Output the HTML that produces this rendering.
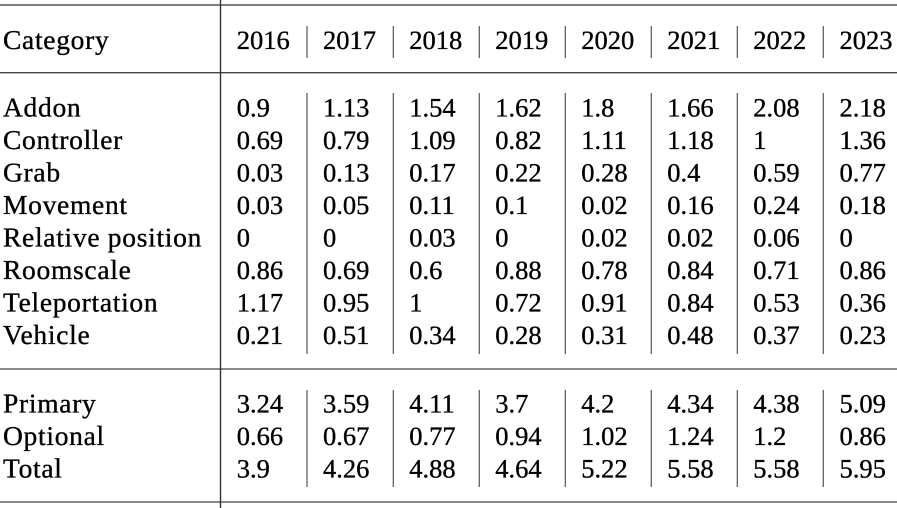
<!DOCTYPE html>
<html>
<head>
<meta charset="utf-8">
<style>
  html, body { margin: 0; padding: 0; background: #fff; }
  body { width: 897px; height: 508px; overflow: hidden; }
  svg { display: block; }
  text { font-family: "Liberation Serif", serif; font-size: 26.5px; fill: #000; stroke: #000; stroke-width: 0.35px; }
  .lbl { font-size: 27.5px; letter-spacing: 0.7px; }
</style>
</head>
<body>
<svg width="897" height="508" viewBox="0 0 897 508" xmlns="http://www.w3.org/2000/svg">
  <!-- horizontal rules -->
  <line x1="0" y1="5" x2="897" y2="5" stroke="#333" stroke-width="1.3"/>
  <line x1="0" y1="72.7" x2="897" y2="72.7" stroke="#444" stroke-width="1.3"/>
  <line x1="0" y1="369" x2="897" y2="369" stroke="#444" stroke-width="1.3"/>
  <line x1="0" y1="502" x2="897" y2="502" stroke="#444" stroke-width="1.3"/>
  <!-- main vertical line -->
  <line x1="220.5" y1="0" x2="220.5" y2="508" stroke="#333" stroke-width="1.4"/>

  <!-- column separators -->
  <g stroke="#555" stroke-width="1.2">
    <line x1="307" y1="26" x2="307" y2="58"/>
    <line x1="393.3" y1="26" x2="393.3" y2="58"/>
    <line x1="479.3" y1="26" x2="479.3" y2="58"/>
    <line x1="565.3" y1="26" x2="565.3" y2="58"/>
    <line x1="651.3" y1="26" x2="651.3" y2="58"/>
    <line x1="737.3" y1="26" x2="737.3" y2="58"/>
    <line x1="823.3" y1="26" x2="823.3" y2="58"/>

    <line x1="307" y1="93" x2="307" y2="354"/>
    <line x1="393.3" y1="93" x2="393.3" y2="354"/>
    <line x1="479.3" y1="93" x2="479.3" y2="354"/>
    <line x1="565.3" y1="93" x2="565.3" y2="354"/>
    <line x1="651.3" y1="93" x2="651.3" y2="354"/>
    <line x1="737.3" y1="93" x2="737.3" y2="354"/>
    <line x1="823.3" y1="93" x2="823.3" y2="354"/>

    <line x1="307" y1="390" x2="307" y2="487"/>
    <line x1="393.3" y1="390" x2="393.3" y2="487"/>
    <line x1="479.3" y1="390" x2="479.3" y2="487"/>
    <line x1="565.3" y1="390" x2="565.3" y2="487"/>
    <line x1="651.3" y1="390" x2="651.3" y2="487"/>
    <line x1="737.3" y1="390" x2="737.3" y2="487"/>
    <line x1="823.3" y1="390" x2="823.3" y2="487"/>
  </g>

  <!-- header -->
  <text class="lbl" x="3" y="49">Category</text>
  <text x="236.7" y="49">2016</text>
  <text x="323" y="49">2017</text>
  <text x="409.3" y="49">2018</text>
  <text x="495.3" y="49">2019</text>
  <text x="581.3" y="49">2020</text>
  <text x="667.3" y="49">2021</text>
  <text x="753.3" y="49">2022</text>
  <text x="839.5" y="49">2023</text>

  <!-- body rows -->
  <g>
    <text class="lbl" x="3" y="116.7">Addon</text>
    <text x="236.7" y="116.7">0.9</text><text x="323" y="116.7">1.13</text><text x="409.3" y="116.7">1.54</text><text x="495.3" y="116.7">1.62</text><text x="581.3" y="116.7">1.8</text><text x="667.3" y="116.7">1.66</text><text x="753.3" y="116.7">2.08</text><text x="839.5" y="116.7">2.18</text>

    <text class="lbl" x="3" y="149.2">Controller</text>
    <text x="236.7" y="149.2">0.69</text><text x="323" y="149.2">0.79</text><text x="409.3" y="149.2">1.09</text><text x="495.3" y="149.2">0.82</text><text x="581.3" y="149.2">1.11</text><text x="667.3" y="149.2">1.18</text><text x="753.3" y="149.2">1</text><text x="839.5" y="149.2">1.36</text>

    <text class="lbl" x="3" y="181.7">Grab</text>
    <text x="236.7" y="181.7">0.03</text><text x="323" y="181.7">0.13</text><text x="409.3" y="181.7">0.17</text><text x="495.3" y="181.7">0.22</text><text x="581.3" y="181.7">0.28</text><text x="667.3" y="181.7">0.4</text><text x="753.3" y="181.7">0.59</text><text x="839.5" y="181.7">0.77</text>

    <text class="lbl" x="3" y="214.2">Movement</text>
    <text x="236.7" y="214.2">0.03</text><text x="323" y="214.2">0.05</text><text x="409.3" y="214.2">0.11</text><text x="495.3" y="214.2">0.1</text><text x="581.3" y="214.2">0.02</text><text x="667.3" y="214.2">0.16</text><text x="753.3" y="214.2">0.24</text><text x="839.5" y="214.2">0.18</text>

    <text class="lbl" x="3" y="246.7">Relative position</text>
    <text x="236.7" y="246.7">0</text><text x="323" y="246.7">0</text><text x="409.3" y="246.7">0.03</text><text x="495.3" y="246.7">0</text><text x="581.3" y="246.7">0.02</text><text x="667.3" y="246.7">0.02</text><text x="753.3" y="246.7">0.06</text><text x="839.5" y="246.7">0</text>

    <text class="lbl" x="3" y="279.2">Roomscale</text>
    <text x="236.7" y="279.2">0.86</text><text x="323" y="279.2">0.69</text><text x="409.3" y="279.2">0.6</text><text x="495.3" y="279.2">0.88</text><text x="581.3" y="279.2">0.78</text><text x="667.3" y="279.2">0.84</text><text x="753.3" y="279.2">0.71</text><text x="839.5" y="279.2">0.86</text>

    <text class="lbl" x="3" y="311.7">Teleportation</text>
    <text x="236.7" y="311.7">1.17</text><text x="323" y="311.7">0.95</text><text x="409.3" y="311.7">1</text><text x="495.3" y="311.7">0.72</text><text x="581.3" y="311.7">0.91</text><text x="667.3" y="311.7">0.84</text><text x="753.3" y="311.7">0.53</text><text x="839.5" y="311.7">0.36</text>

    <text class="lbl" x="3" y="344.2">Vehicle</text>
    <text x="236.7" y="344.2">0.21</text><text x="323" y="344.2">0.51</text><text x="409.3" y="344.2">0.34</text><text x="495.3" y="344.2">0.28</text><text x="581.3" y="344.2">0.31</text><text x="667.3" y="344.2">0.48</text><text x="753.3" y="344.2">0.37</text><text x="839.5" y="344.2">0.23</text>
  </g>

  <!-- summary rows -->
  <g>
    <text class="lbl" x="3" y="412.3">Primary</text>
    <text x="236.7" y="412.3">3.24</text><text x="323" y="412.3">3.59</text><text x="409.3" y="412.3">4.11</text><text x="495.3" y="412.3">3.7</text><text x="581.3" y="412.3">4.2</text><text x="667.3" y="412.3">4.34</text><text x="753.3" y="412.3">4.38</text><text x="839.5" y="412.3">5.09</text>

    <text class="lbl" x="3" y="444.8">Optional</text>
    <text x="236.7" y="444.8">0.66</text><text x="323" y="444.8">0.67</text><text x="409.3" y="444.8">0.77</text><text x="495.3" y="444.8">0.94</text><text x="581.3" y="444.8">1.02</text><text x="667.3" y="444.8">1.24</text><text x="753.3" y="444.8">1.2</text><text x="839.5" y="444.8">0.86</text>

    <text class="lbl" x="3" y="477.3">Total</text>
    <text x="236.7" y="477.3">3.9</text><text x="323" y="477.3">4.26</text><text x="409.3" y="477.3">4.88</text><text x="495.3" y="477.3">4.64</text><text x="581.3" y="477.3">5.22</text><text x="667.3" y="477.3">5.58</text><text x="753.3" y="477.3">5.58</text><text x="839.5" y="477.3">5.95</text>
  </g>
</svg>
</body>
</html>
